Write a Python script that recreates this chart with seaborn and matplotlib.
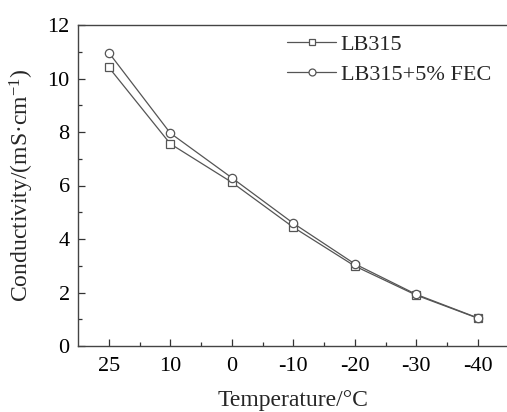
import numpy as np
import pandas as pd
import matplotlib
matplotlib.use("Agg")
import matplotlib.pyplot as plt
from matplotlib.ticker import MultipleLocator, FixedLocator
import seaborn as sns

temperatures = ["25", "10", "0", "-10", "-20", "-30", "-40"]
lb315 = [10.42, 7.56, 6.12, 4.44, 2.99, 1.90, 1.04]
lb315_fec = [10.97, 7.96, 6.29, 4.59, 3.07, 1.93, 1.05]
series_names = ["LB315", "LB315+5% FEC"]

sns.set_theme(style="ticks")
plt.rcParams["font.family"] = ["Liberation Serif", "DejaVu Serif"]
plt.rcParams["mathtext.fontset"] = "custom"
plt.rcParams["mathtext.rm"] = "Liberation Serif"
plt.rcParams["mathtext.it"] = "Liberation Serif:italic"

pos = np.arange(len(temperatures))
df = pd.DataFrame({
    "pos": np.concatenate([pos, pos]),
    "value": lb315 + lb315_fec,
    "series": [series_names[0]] * len(pos) + [series_names[1]] * len(pos),
})

fig = plt.figure(figsize=(5.07, 4.12), dpi=100)
ax = fig.add_axes([78 / 507, 66 / 412, 430.5 / 507, 321 / 412])

line_color = "#555555"
sns.lineplot(
    data=df, x="pos", y="value", hue="series", style="series",
    markers={series_names[0]: "s", series_names[1]: "o"},
    dashes=False, palette=[line_color, line_color],
    markersize=6, markerfacecolor="white", markeredgecolor=line_color,
    markeredgewidth=0.9, linewidth=0.9, ax=ax,
)

ax.set_xlim(-0.5, 6.5)
ax.set_ylim(0, 12)
ax.xaxis.set_major_locator(FixedLocator(pos))
ax.set_xticklabels(temperatures)
ax.xaxis.set_minor_locator(FixedLocator(pos[:-1] + 0.5))
ax.yaxis.set_major_locator(MultipleLocator(2))
ax.yaxis.set_minor_locator(MultipleLocator(1))
ax.tick_params(which="both", direction="in", colors="#333333", labelcolor="black",
               labelsize=16, width=0.9)
ax.tick_params(which="major", length=5, pad=8)
ax.tick_params(which="minor", length=3)
ax.tick_params(axis="y", pad=6)

for side in ["left", "bottom", "top"]:
    ax.spines[side].set_color("#444444")
    ax.spines[side].set_linewidth(1.0)
ax.spines["right"].set_visible(False)

ax.set_xlabel("Temperature/°C", fontsize=17, labelpad=10)
ax.set_ylabel("Conductivity/(mS·cm$^{-1}$)", fontsize=17, labelpad=8)

leg = ax.legend(loc="upper left", bbox_to_anchor=(0.45, 1.02), frameon=False,
                fontsize=16, handlelength=2.2, handletextpad=0.2,
                labelspacing=0.45, borderaxespad=0.3)
for h in leg.legend_handles:
    h.set_markersize(5)
    h.set_markerfacecolor("white")
    h.set_markeredgecolor(line_color)

fig.savefig("out.png", dpi=100)
